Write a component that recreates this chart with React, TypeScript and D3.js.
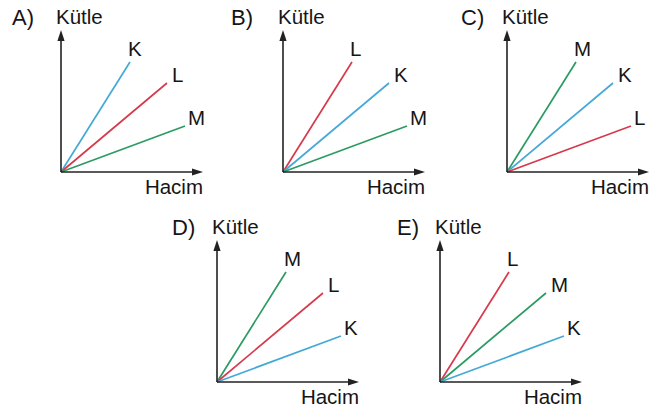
import React, { useEffect, useRef } from 'react';
import * as d3 from 'd3';

// substances and their line colours
const categories = ['K', 'L', 'M'];
const categoryColors = ['#45a9d6', '#d63a4c', '#2b9a63'];

// end point of each line slot, steepest first (Hacim, Kütle)
const slotHacim = [69, 106, 124];
const slotKutle = [110, 89, 46];

// which substance sits in which slot, per answer choice
const panelLetters = ['A)', 'B)', 'C)', 'D)', 'E)'];
const panelOrders = [
  ['K', 'L', 'M'],
  ['L', 'K', 'M'],
  ['M', 'K', 'L'],
  ['M', 'L', 'K'],
  ['L', 'M', 'K'],
];

const axisTitleX = 'Hacim';
const axisTitleY = 'Kütle';

const W = 667;
const H = 413;
const AXIS = 142;
const FONT = '"Liberation Sans", Arial, sans-serif';

// panel origins and offset of the choice letter
const panels = [
  { ox: 61, oy: 172, lx: -49 },
  { ox: 283, oy: 172, lx: -52 },
  { ox: 507, oy: 172, lx: -46 },
  { ox: 217, oy: 382, lx: -45 },
  { ox: 440, oy: 382, lx: -43 },
];

// label nudges per slot
const labelOffsets = [
  { dx: -2, dy: -6 },
  { dx: 5, dy: -1 },
  { dx: 3, dy: -1 },
];

const App = () => {
  const ref = useRef<SVGSVGElement>(null);

  useEffect(() => {
    const svg = d3.select(ref.current);
    svg.selectAll('*').remove();

    const x = d3.scaleLinear().domain([0, AXIS]).range([0, AXIS]);
    const y = d3.scaleLinear().domain([0, AXIS]).range([0, -AXIS]);
    const colour = d3.scaleOrdinal<string, string>().domain(categories).range(categoryColors);
    const line = d3.line<[number, number]>()
      .x(d => x(d[0]))
      .y(d => y(d[1]));

    panels.forEach((p, i) => {
      const g = svg.append('g')
        .attr('transform', `translate(${p.ox}, ${p.oy})`);

      /* data lines */
      panelOrders[i].forEach((cat, s) => {
        g.append('path')
          .attr('d', line([[0, 0], [slotHacim[s], slotKutle[s]]]))
          .attr('stroke', colour(cat))
          .attr('stroke-width', 1.7)
          .attr('fill', 'none');

        g.append('text')
          .text(cat)
          .attr('x', x(slotHacim[s]) + labelOffsets[s].dx)
          .attr('y', y(slotKutle[s]) + labelOffsets[s].dy)
          .style('font-family', FONT)
          .style('font-size', '20.5px')
          .attr('fill', '#151515');
      });

      /* axes with arrow heads */
      g.append('line')
        .attr('x1', 0).attr('y1', 0)
        .attr('x2', 0).attr('y2', y(AXIS) + 9)
        .attr('stroke', '#222')
        .attr('stroke-width', 1.6);
      g.append('path')
        .attr('d', `M0,${y(AXIS)} L-3.6,${y(AXIS) + 11} L3.6,${y(AXIS) + 11} Z`)
        .attr('fill', '#222');

      g.append('line')
        .attr('x1', 0).attr('y1', 0)
        .attr('x2', x(AXIS) - 9).attr('y2', 0)
        .attr('stroke', '#222')
        .attr('stroke-width', 1.6);
      g.append('path')
        .attr('d', `M${x(AXIS)},0 L${x(AXIS) - 11},-3.6 L${x(AXIS) - 11},3.6 Z`)
        .attr('fill', '#222');

      /* texts */
      g.append('text')
        .text(axisTitleY)
        .attr('x', -5)
        .attr('y', -148)
        .style('font-family', FONT)
        .style('font-size', '20.5px')
        .attr('fill', '#151515');

      g.append('text')
        .text(panelLetters[i])
        .attr('x', p.lx)
        .attr('y', -147)
        .style('font-family', FONT)
        .style('font-size', '22px')
        .attr('fill', '#151515');

      g.append('text')
        .text(axisTitleX)
        .attr('x', x(AXIS))
        .attr('y', 22)
        .attr('text-anchor', 'end')
        .style('font-family', FONT)
        .style('font-size', '20.5px')
        .attr('fill', '#151515');
    });
  });

  return (
    <svg
      ref={ref}
      width={W}
      height={H}
      style={{ position: 'absolute', left: 0, top: 0, background: '#fff' }}
    />
  );
};

export default App;
